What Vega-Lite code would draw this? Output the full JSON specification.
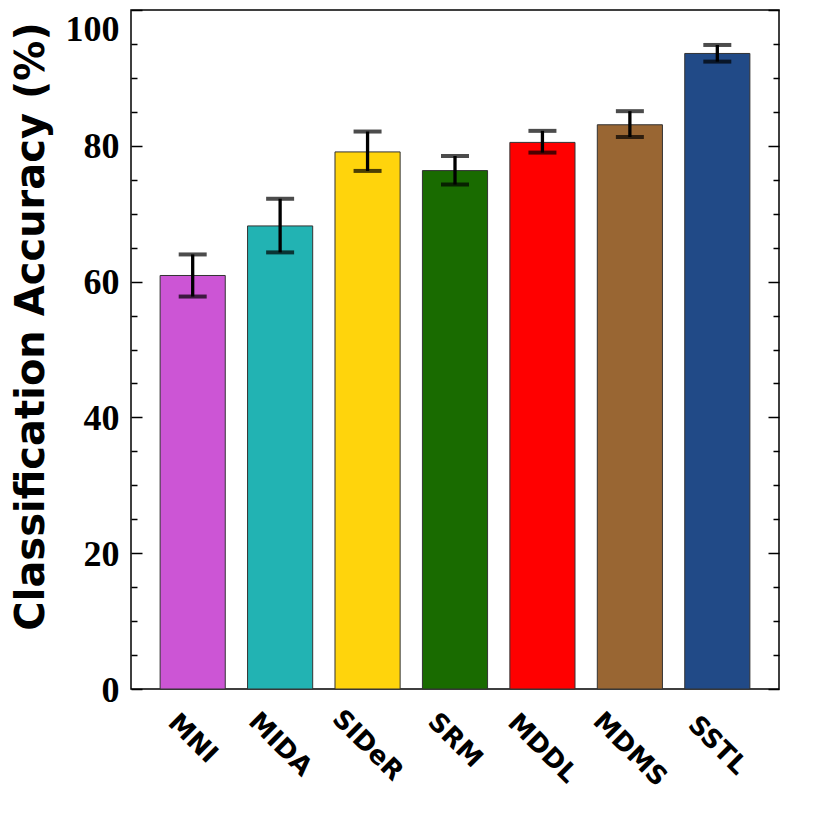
{
  "$schema": "https://vega.github.io/schema/vega-lite/v6.json",
  "width": 648,
  "height": 679,
  "autosize": {"type": "none"},
  "padding": {"left": 131, "top": 10, "right": 35, "bottom": 125},
  "background": "white",
  "config": {"view": {"stroke": "black", "strokeWidth": 1.5}},
  "data": {
    "values": [
      {"method": "MNI", "acc": 60.9, "lo": 57.8, "hi": 64.0},
      {"method": "MIDA", "acc": 68.2, "lo": 64.3, "hi": 72.2},
      {"method": "SIDeR", "acc": 79.1, "lo": 76.3, "hi": 82.1},
      {"method": "SRM", "acc": 76.35, "lo": 74.3, "hi": 78.5},
      {"method": "MDDL", "acc": 80.5, "lo": 79.0, "hi": 82.2},
      {"method": "MDMS", "acc": 83.1, "lo": 81.3, "hi": 85.1},
      {"method": "SSTL", "acc": 93.6, "lo": 92.4, "hi": 94.85}
    ]
  },
  "encoding": {
    "x": {
      "field": "method",
      "type": "nominal",
      "sort": null,
      "scale": {"paddingInner": 0.255, "paddingOuter": 0.333},
      "axis": {
        "title": null,
        "ticks": false,
        "domain": false,
        "labelAngle": 45,
        "labelAlign": "center",
        "labelBaseline": "middle",
        "labelPadding": {
          "condition": [
            {"test": "datum.value === 'MNI'", "value": 49},
            {"test": "datum.value === 'MIDA'", "value": 55},
            {"test": "datum.value === 'SIDeR'", "value": 56},
            {"test": "datum.value === 'SRM'", "value": 51},
            {"test": "datum.value === 'MDDL'", "value": 59},
            {"test": "datum.value === 'MDMS'", "value": 60}
          ],
          "value": 56
        },
        "labelFont": "DejaVu Sans",
        "labelFontWeight": "bold",
        "labelFontSize": 26,
        "labelColor": "black"
      }
    }
  },
  "layer": [
    {
      "mark": {"type": "bar", "stroke": "#333333", "strokeWidth": 1},
      "encoding": {
        "y": {
          "field": "acc",
          "type": "quantitative",
          "scale": {"domain": [0, 100], "nice": false},
          "axis": {
            "orient": "left",
            "values": [0, 5, 10, 15, 20, 25, 30, 35, 40, 45, 50, 55, 60, 65, 70, 75, 80, 85, 90, 95, 100],
            "labelExpr": "datum.value % 20 === 0 ? datum.label : ''",
            "tickSize": {"condition": {"test": "datum.value % 20 === 0", "value": -11}, "value": -6},
            "tickColor": "black",
            "tickWidth": 1.5,
            "domain": false,
            "grid": false,
            "labelPadding": 23,
            "labelBaseline": {"condition": {"test": "datum.value === 100", "value": "top"}, "value": "middle"},
            "labelOffset": {"condition": {"test": "datum.value === 100", "value": 2}, "value": 1},
            "labelFont": "Liberation Serif",
            "labelFontWeight": "bold",
            "labelFontSize": 36,
            "labelColor": "black",
            "title": "Classification Accuracy (%)",
            "titleFont": "DejaVu Sans",
            "titleFontWeight": "bold",
            "titleFontSize": 40,
            "titleColor": "black",
            "titleAngle": -90,
            "titleX": -88,
            "titleY": 316,
            "titleAlign": "center",
            "titleBaseline": "alphabetic"
          }
        },
        "fill": {
          "field": "method",
          "type": "nominal",
          "sort": null,
          "legend": null,
          "scale": {
            "domain": ["MNI", "MIDA", "SIDeR", "SRM", "MDDL", "MDMS", "SSTL"],
            "range": ["#CC55D5", "#22B3B3", "#FFD40C", "#196B00", "#FF0000", "#996633", "#214A87"]
          }
        }
      }
    },
    {
      "mark": {"type": "rule", "color": "black", "strokeWidth": 3.3},
      "encoding": {
        "y": {
          "field": "lo",
          "type": "quantitative",
          "axis": {
            "orient": "right",
            "values": [0, 5, 10, 15, 20, 25, 30, 35, 40, 45, 50, 55, 60, 65, 70, 75, 80, 85, 90, 95, 100],
            "labels": false,
            "tickSize": {"condition": {"test": "datum.value % 20 === 0", "value": -11}, "value": -6},
            "tickColor": "black",
            "tickWidth": 1.5,
            "domain": false,
            "grid": false,
            "title": null
          }
        },
        "y2": {"field": "hi"}
      }
    },
    {
      "mark": {"type": "tick", "color": "black", "size": 28, "thickness": 4},
      "encoding": {
        "y": {"field": "lo", "type": "quantitative", "axis": null}
      }
    },
    {
      "mark": {"type": "tick", "color": "black", "size": 28, "thickness": 4},
      "encoding": {
        "y": {"field": "hi", "type": "quantitative", "axis": null}
      }
    }
  ],
  "resolve": {"axis": {"y": "independent"}}
}
